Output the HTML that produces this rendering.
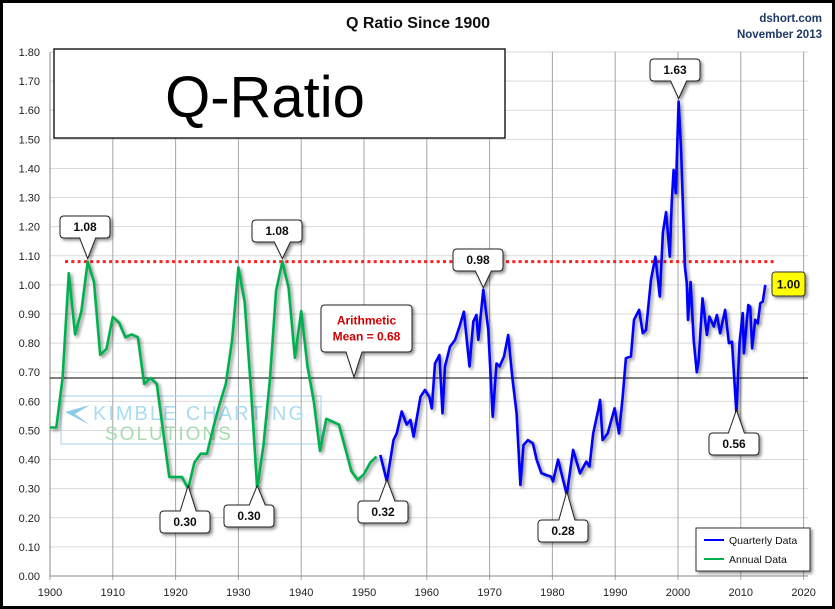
<!DOCTYPE html>
<html><head><meta charset="utf-8"><style>
html,body{margin:0;padding:0;background:#000}
svg{display:block;font-family:"Liberation Sans",sans-serif}
</style></head><body>
<svg id="chart" width="835" height="609" viewBox="0 0 835 609">
<defs><filter id="sh" x="-20%" y="-20%" width="150%" height="150%"><feDropShadow dx="2" dy="2" stdDeviation="1.5" flood-color="#000" flood-opacity="0.45"/></filter></defs>
<rect x="3" y="3" width="829" height="603" fill="#fff"/>
<text x="418" y="28" text-anchor="middle" font-size="16" font-weight="bold" fill="#111">Q Ratio Since 1900</text>
<text x="822" y="22" text-anchor="end" font-size="11.5" font-weight="bold" fill="#1f3864">dshort.com</text>
<text x="822" y="38" text-anchor="end" font-size="11.5" font-weight="bold" fill="#1f3864">November 2013</text>
<g id="grid"></g>
<g id="axes"></g>
<rect x="61" y="396" width="260" height="48" fill="none" stroke="#9fd3ec" stroke-width="1"/>
<polygon points="65,412 90,405 75,414 90,425" fill="#8ccbe8"/>
<text x="93" y="420" font-size="20" fill="#a9dcf2" letter-spacing="2">KIMBLE CHARTING</text>
<text x="105" y="440" font-size="19" fill="#a8dbb0" letter-spacing="2">SOLUTIONS</text>
<g id="series"></g>
<rect x="54" y="49" width="451" height="89" fill="#fff" stroke="#000" stroke-width="1.3"/>
<text x="265" y="117" text-anchor="middle" font-size="58" fill="#000">Q-Ratio</text>
<g id="callouts"></g>
<g>
<rect x="696" y="528" width="114" height="43" fill="#fff" stroke="#333" filter="url(#sh)"/>
<line x1="704" y1="540" x2="724" y2="540" stroke="#0000ff" stroke-width="2"/>
<text x="729" y="544" font-size="10.5" fill="#111">Quarterly Data</text>
<line x1="704" y1="559" x2="724" y2="559" stroke="#00b050" stroke-width="2"/>
<text x="729" y="563" font-size="10.5" fill="#111">Annual Data</text>
</g>
</svg>
<script>
const yTicks=[0,0.1,0.2,0.3,0.4,0.5,0.6,0.7,0.8,0.9,1.0,1.1,1.2,1.3,1.4,1.5,1.6,1.7,1.8];
const xTicks=[1900,1910,1920,1930,1940,1950,1960,1970,1980,1990,2000,2010,2020];
const annualYears=[1900,1901,1902,1903,1904,1905,1906,1907,1908,1909,1910,1911,1912,1913,1914,1915,1916,1917,1918,1919,1920,1921,1922,1923,1924,1925,1926,1927,1928,1929,1930,1931,1932,1933,1934,1935,1936,1937,1938,1939,1940,1941,1942,1943,1944,1945,1946,1947,1948,1949,1950,1951,1952];
const annualValues=[0.51,0.51,0.68,1.04,0.83,0.91,1.08,1.01,0.76,0.78,0.89,0.87,0.82,0.83,0.82,0.66,0.68,0.66,0.50,0.34,0.34,0.34,0.30,0.39,0.42,0.42,0.51,0.59,0.66,0.81,1.06,0.94,0.64,0.30,0.45,0.67,0.98,1.08,0.99,0.75,0.91,0.72,0.60,0.43,0.54,0.53,0.52,0.44,0.36,0.33,0.35,0.39,0.41];
const quarterYears=[1952.6,1953.65,1954.7,1955.2,1956,1956.8,1957.4,1957.9,1959,1959.7,1960.4,1960.8,1961.3,1962,1962.5,1962.9,1963.7,1964.5,1965.2,1965.9,1966.8,1967.4,1967.9,1968.2,1969,1969.8,1970.5,1971.1,1971.6,1972.3,1972.96,1973.6,1974.3,1974.9,1975.4,1976.1,1976.9,1977.5,1978.25,1979,1979.8,1980.1,1980.9,1981.7,1982.3,1983.3,1984.4,1985.4,1985.9,1986.5,1987.3,1987.6,1988,1988.8,1989.9,1990.6,1991.2,1991.7,1992.5,1993,1993.8,1994.4,1994.9,1995.7,1996.4,1997.1,1997.6,1998.1,1998.7,1999,1999.3,1999.65,2000.1,2000.5,2001.1,2001.4,2001.6,2002,2002.5,2003,2003.3,2003.9,2004.6,2005,2005.7,2006.2,2006.7,2007.5,2008.1,2008.6,2009.3,2009.8,2010.3,2010.5,2011.2,2011.5,2011.8,2012.3,2012.7,2013.1,2013.5,2013.9];
const quarterValues=[0.416,0.325,0.467,0.49,0.565,0.52,0.536,0.479,0.616,0.639,0.616,0.576,0.73,0.759,0.559,0.72,0.788,0.811,0.857,0.908,0.72,0.874,0.897,0.811,0.983,0.845,0.547,0.73,0.72,0.754,0.828,0.686,0.559,0.313,0.45,0.467,0.456,0.399,0.353,0.347,0.341,0.325,0.40,0.33,0.28,0.433,0.353,0.393,0.376,0.49,0.57,0.605,0.467,0.49,0.576,0.49,0.616,0.748,0.754,0.88,0.914,0.834,0.845,1.018,1.097,0.96,1.18,1.25,1.097,1.28,1.395,1.315,1.63,1.464,1.063,1.005,0.88,1.01,0.81,0.70,0.742,0.954,0.828,0.891,0.857,0.897,0.834,0.914,0.80,0.805,0.56,0.80,0.903,0.765,0.931,0.925,0.782,0.88,0.868,0.937,0.943,1.0];
const meanValue=0.68;
const refValue=1.08;
const callTexts=["1.08","1.08","0.98","1.63","0.30","0.30","0.32","0.28","0.56"];
const callYears=[1906,1937,1969,2000.1,1922,1933,1953.65,1982.3,2009.3];
const callValues=[1.08,1.08,0.98,1.63,0.30,0.30,0.32,0.28,0.56];

const NS="http://www.w3.org/2000/svg";
const X0=50,X1=803.6,Y0=576,Y1=52;
function xs(yr){return X0+(yr-1900)/(2020-1900)*(X1-X0);}
function ys(v){return Y0-v/1.8*(Y0-Y1);}
function mk(tag,attrs,parent){const e=document.createElementNS(NS,tag);for(const k in attrs)e.setAttribute(k,attrs[k]);parent.appendChild(e);return e;}
const grid=document.getElementById('grid'),axes=document.getElementById('axes'),series=document.getElementById('series'),calls=document.getElementById('callouts');
mk('rect',{x:X0,y:Y1,width:808-X0,height:Y0-Y1,fill:'#fff'},grid);
yTicks.forEach(v=>{
  const l=mk('line',{x1:X0,x2:808,y1:ys(v),y2:ys(v),stroke:'#d9d9d9','stroke-width':1},grid);
  
  
  const t=mk('text',{x:40,y:ys(v)+4,'text-anchor':'end','font-size':'11',fill:'#222'},axes);
  t.textContent=v.toFixed(2);
  
  
});
xTicks.forEach(yr=>{
  const l=mk('line',{x1:xs(yr),x2:xs(yr),y1:Y1,y2:Y0+4,stroke:'#a6a6a6','stroke-width':1},grid);
  
  
  const t=mk('text',{x:xs(yr),y:596,'text-anchor':'middle','font-size':'11',fill:'#222'},axes);
  t.textContent=yr;
  
  
});
const ax=mk('path',{d:`M${X0},${Y1}V${Y0}H808`,stroke:'#888',fill:'none'},axes);


const ml=mk('line',{x1:X0,x2:808,y1:ys(meanValue),y2:ys(meanValue),stroke:'#000','stroke-width':1},series);


const rl=mk('line',{x1:65,x2:776,y1:ys(refValue),y2:ys(refValue),stroke:'#ff2020','stroke-width':3,'stroke-dasharray':'3 3.3'},series);


function line(xsA,vsA,color,name){
  const d=xsA.map((yr,i)=>(i?'L':'M')+xs(yr).toFixed(1)+','+ys(vsA[i]).toFixed(1)).join('');
  const p=mk('path',{d:d,stroke:color,'stroke-width':2.6,fill:'none','stroke-linejoin':'round',filter:'url(#sh)'},series);
  
  
}
line(annualYears,annualValues,'#00b050','annual-data-line');
line(quarterYears,quarterValues,'#0000ff','quarterly-data-line');
function callout(text,px,py,bx,by,w,h,name,col,fill,fs,extra){
  const g=mk('g',{filter:'url(#sh)'},calls);
  
  
  const above=by+h<py;
  const tx=px, bxm=Math.min(Math.max(px-10,bx+6),bx+w-20);
  let d;
  if(above){d=`M${bx+4},${by}H${bx+w-4}Q${bx+w},${by} ${bx+w},${by+4}V${by+h-4}Q${bx+w},${by+h} ${bx+w-4},${by+h}H${bxm+18}L${tx},${py}L${bxm+2},${by+h}H${bx+4}Q${bx},${by+h} ${bx},${by+h-4}V${by+4}Q${bx},${by} ${bx+4},${by}Z`;}
  else{d=`M${bx+4},${by}H${bxm+2}L${tx},${py}L${bxm+18},${by}H${bx+w-4}Q${bx+w},${by} ${bx+w},${by+4}V${by+h-4}Q${bx+w},${by+h} ${bx+w-4},${by+h}H${bx+4}Q${bx},${by+h} ${bx},${by+h-4}V${by+4}Q${bx},${by} ${bx+4},${by}Z`;}
  mk('path',{d:d,fill:fill,stroke:'#222','stroke-width':1},g);
  const lines=text.split('|');
  lines.forEach((s,i)=>{const t=mk('text',{x:bx+w/2,y:by+h/2+4+(i-(lines.length-1)/2)*16,'text-anchor':'middle','font-size':fs,'font-weight':'bold',fill:col},g);t.textContent=s;});
}
const boxes=[[60,216],[252,220],[453,249],[650,59],[160,511],[224,505],[358,501],[538,520],[709,433]];
callTexts.forEach((s,i)=>{
  callout(s,xs(callYears[i]),ys(callValues[i])-3,boxes[i][0],boxes[i][1],50,22,'callout-'+s.replace('.','-'),'#111','#fff',12);
});
callout('Arithmetic|Mean = 0.68',354,ys(meanValue)-1,321,305,91,47,'mean-callout','#d00000','#fff',12);
const yb=mk('rect',{x:772,y:272,width:33,height:24,rx:3,fill:'#ffff00',stroke:'#333',filter:'url(#sh)'},calls);


const yt=mk('text',{x:788.5,y:288.5,'text-anchor':'middle','font-size':12,'font-weight':'bold',fill:'#111'},calls);
yt.textContent='1.00';


</script>
</body></html>
